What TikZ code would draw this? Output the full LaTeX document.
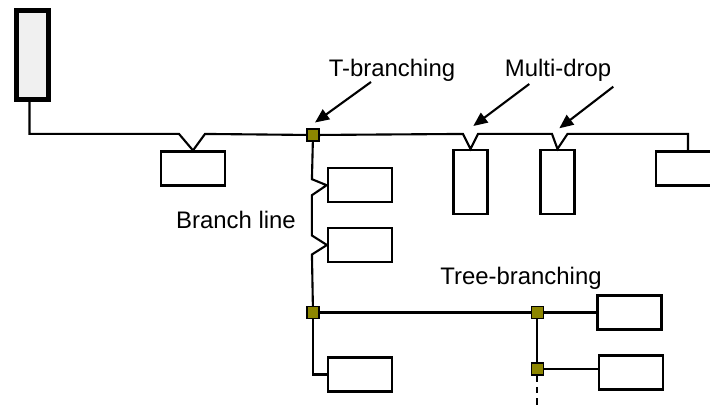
\documentclass[tikz,border=0pt]{standalone}
\usepackage{fontspec}
\setmainfont{Liberation Sans}
\usetikzlibrary{arrows.meta, calc, positioning}

\begin{document}
\begin{tikzpicture}[x=0.025cm, y=-0.025cm,
  wire/.style={black, line width=1.5pt},
  pointer/.style={black, line width=1.5pt, -{Triangle[length=10pt, width=8.5pt]}},
  station/.style={draw=black, line width=1.5pt, fill=white, inner sep=0pt, minimum width=1.6cm, minimum height=0.85cm},
  tallstation/.style={station, minimum width=0.85cm, minimum height=1.6cm},
  junction/.style={draw=black, line width=1pt, fill=olive, inner sep=0pt, minimum size=0.3cm},
  tag/.style={font=\fontsize{17}{20}\selectfont, inner sep=0pt, anchor=base}]
  \clip (0, 0) rectangle (710, 414);
  % master and stations
  \node[draw=black, line width=3.5pt, fill=black!6, inner sep=0pt, minimum width=0.8cm, minimum height=2.225cm] (host) at (32.5, 55) {};
  \node[station] (drop1) at (193, 168.5) {};
  \node[tallstation] (drop2) at (470.5, 182) {};
  \node[tallstation] (drop3) at (557.5, 182) {};
  \node[station] (drop4) at (688, 168.5) {};
  \node[station] (tap1) at (359.7, 185.2) {};
  \node[station] (tap2) at (360, 245) {};
  \node[station] (tap3) at (359.7, 374.5) {};
  \node[station] (leaf1) at (629.5, 312.5) {};
  \node[station] (leaf2) at (631, 372.5) {};
  % junctions
  \node[junction] (tjunc) at (313, 135) {};
  \node[junction] (split) at (313, 312.5) {};
  \node[junction] (tree) at (537.3, 312.5) {};
  \node[junction] (tree2) at (537.3, 369) {};
  \coordinate (tail) at (537.3, 409);
  % main line
  \draw[wire] ($(host.south)+(-3,0)$) |- ($(drop1.north)+(-14,-16.5)$) -- (drop1.north) -- ++(12,-16.5) -- (tjunc)
    -- ($(drop2.north)+(-7.5,-15)$) -- (drop2.north) -- ++(7.5,-15)
    -- ($(drop3.north)+(-5.5,-15)$) -- (drop3.north) -- ++(10,-15) -| (drop4.north);
  % branch line
  \draw[wire] (tjunc) -- ($(tap1.west)+(-14.7,-6)$) -- (tap1.west) -- ++(-14.7,10)
    -- ($(tap2.west)+(-15,-9.5)$) -- (tap2.west) -- ++(-15,9.5) -- (split);
  \draw[wire] (split) |- (tap3.west);
  % tree
  \draw[wire] (split) -- (tree) -- (leaf1.west);
  \draw[wire] (tree) -- (tree2) -- (tree2 -| leaf2.west);
  \draw[wire, dash pattern=on 4.5pt off 3.5pt] (tree2) -- (tail);
  % labels
  \node[tag] (tlabel) at (392, 76) {T-branching};
  \node[tag] (mlabel) at (558, 76) {Multi-drop};
  \node[tag] (blabel) at (236, 228.3) {Branch line};
  \node[tag] (trlabel) at (521, 284.3) {Tree-branching};
  \coordinate (tfrom) at (371, 82);
  \coordinate (tto) at (315, 122.5);
  \coordinate (mfrom1) at (529.3, 84);
  \coordinate (mto1) at (473.3, 126);
  \coordinate (mfrom2) at (613.3, 86.7);
  \coordinate (mto2) at (559.3, 128.3);
  \draw[pointer] (tfrom) -- (tto);
  \draw[pointer] (mfrom1) -- (mto1);
  \draw[pointer] (mfrom2) -- (mto2);
\end{tikzpicture}
\end{document}
